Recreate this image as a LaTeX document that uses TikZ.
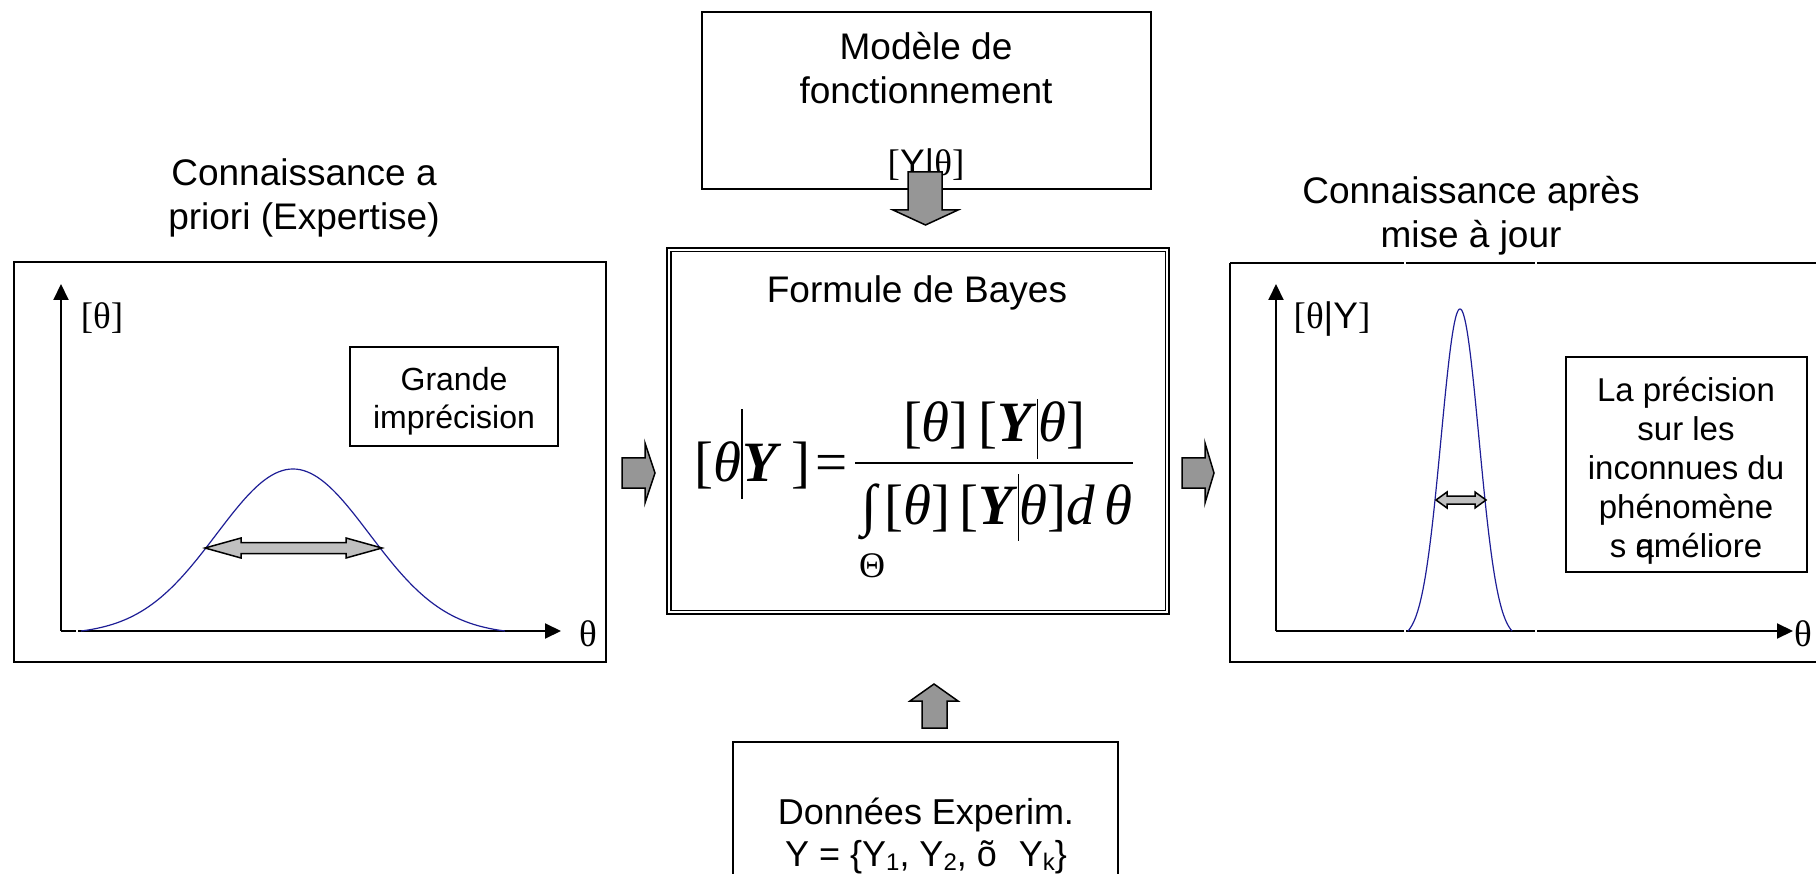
\documentclass[tikz,border=0pt]{standalone}
\usepackage{fontspec}
\setmainfont{Liberation Sans}
\newfontfamily\tnr{Liberation Serif}
\usetikzlibrary{calc,arrows.meta}

\definecolor{curveblue}{RGB}{30,30,150}
\definecolor{blockgray}{RGB}{150,150,150}
\definecolor{palegray}{RGB}{192,192,192}

% tall conditioning bar: depth, total height
\newcommand{\condbar}[2]{\rule[-#1]{1.4pt}{#2}}
% lowered subscript in the label font
\newcommand{\lowsub}[1]{\raisebox{-4pt}{\fontsize{24}{24}\selectfont #1}}

\begin{document}
\begin{tikzpicture}[x=1pt,y=-1pt,
  frame/.style={draw, line width=1.5pt, inner sep=0pt},
  lbl/.style={font=\fontsize{37}{44}\selectfont, align=center, inner sep=0pt},
  smalllbl/.style={font=\fontsize{33}{39}\selectfont, align=center, inner sep=0pt},
  axis/.style={line width=2pt, -{Triangle[length=16pt,width=15pt]}},
  curve/.style={curveblue, line width=1.2pt},
  block/.style={fill=blockgray, draw=black, line width=1.5pt, line join=miter},
  dblock/.style={fill=palegray, draw=black, line width=1.5pt, line join=miter},
  gap/.style={draw=white, line width=2.5pt},
  frm/.style={font=\tnr\fontsize{57}{60}\selectfont, inner sep=0pt}
]
\path[use as bounding box] (0,0) rectangle (1816,874);
\clip (0,0) rectangle (1816,874);

% ---------- operating model (top) ----------
\node[frame, minimum width=449pt, minimum height=177pt] (model) at (926.5,100.5) {};
\node[lbl] (modtxt) at (926,68) {Modèle de\\fonctionnement};
\node[lbl] (lik) at (926,166) {{\tnr[}Y|{\tnr θ]}};
\draw[block] (908,172) -- (942,172) -- (942,210) -- (958,210) -- (925.5,225)
  -- (893,210) -- (908,210) -- cycle;

% ---------- prior knowledge (left) ----------
\node[lbl] (priortitle) at (304,198) {Connaissance a\\priori (Expertise)};
\node[frame, minimum width=592pt, minimum height=400pt] (prior) at (310,462) {};
\coordinate (pO) at (61,631);
\draw[axis] (pO) -- (61,284);
\draw[axis] (pO) -- (561,631);
\draw[gap] (77,627) -- (77,635);
\node[lbl, font=\tnr\fontsize{37}{44}\selectfont] (pylab) at (102,318) {[θ]};
\node[lbl, font=\tnr\fontsize{37}{44}\selectfont] (pxlab) at (588,634) {θ};
\node[frame, minimum width=208pt, minimum height=99pt] (wide) at (454,396.5) {};
\node[smalllbl, font=\fontsize{32}{38}\selectfont] (widetxt) at (454,401) {Grande\\imprécision};
\draw[curve] plot[domain=-2.77:2.77, samples=121, smooth]
  ({293+76.5*\x}, {631-162*(exp(-\x*\x/2)-0.0215)/0.9785});
\draw[dblock] (205,548) -- (241,538) -- (241,542.5) -- (346,542.5) -- (346,538)
  -- (382,548) -- (346,558) -- (346,553.5) -- (241,553.5) -- (241,558) -- cycle;

% ---------- Bayes formula (centre) ----------
\node[draw, line width=2.6pt, minimum width=502pt, minimum height=366pt, inner sep=0pt] (bayes) at (918,431) {};
\draw[line width=1.6pt] ($(bayes.north west)+(5,5)$) rectangle ($(bayes.south east)+(-5,-5)$);
\node[lbl] (bayestitle) at (917,293) {Formule de Bayes};
\node[frm, anchor=base west] (lhs) at (694,482)
  {[\textit{θ}\condbar{17pt}{90pt}\textbf{\textit{Y}}\,]\hspace{5pt}=};
\draw[line width=2pt] (855,463) coordinate (fracl) -- (1133,463) coordinate (fracr);
\node[frm, anchor=base] (num) at (994,442)
  {[\textit{θ}]\,[\textbf{\textit{Y}}\condbar{17pt}{60pt}\textit{θ}]};
\node[frm, anchor=base] (intsign) at (869,524) {∫};
\node[frm, anchor=base west] (den) at (884,524)
  {[\textit{θ}]\,[\textbf{\textit{Y}}\condbar{17pt}{67pt}\textit{θ}]\textit{d}\,\textit{θ}};
\node[frm, font=\tnr\fontsize{36}{38}\selectfont] (domain) at (872,566) {Θ};

% ---------- flow arrows around the formula ----------
\draw[block] (622,458) -- (645,458) -- (645,443) -- (655,473) -- (645,503)
  -- (645,488) -- (622,488) -- cycle;
\draw[block] (1182,458) -- (1205,458) -- (1205,443) -- (1214,473) -- (1205,503)
  -- (1205,488) -- (1182,488) -- cycle;
\draw[block] (934,684) -- (958,701) -- (947,701) -- (947,728) -- (922,728)
  -- (922,701) -- (910,701) -- cycle;

% ---------- updated knowledge (right) ----------
\node[lbl] (posttitle) at (1471,216) {Connaissance après\\mise à jour};
\draw[line width=1.5pt] (1230,263) coordinate (qnw) -- (1830,263);
\draw[line width=1.5pt] (qnw) -- (1230,662) -- (1830,662);
\coordinate (qO) at (1276,631);
\draw[axis] (qO) -- (1793,631);
\draw[axis] (qO) -- (1276,284);
\draw[gap] (1405,259) -- (1405,267) (1536,259) -- (1536,267)
  (1405,627) -- (1405,635) (1536,627) -- (1536,635);
\node[lbl, font=\fontsize{37}{44}\selectfont] (qylab) at (1332,319) {{\tnr[θ}|Y{\tnr]}};
\node[lbl, font=\tnr\fontsize{37}{44}\selectfont] (qxlab) at (1803,634) {θ};
\draw[curve] plot[domain=-2.74:2.74, samples=121, smooth]
  ({1460+19*\x}, {631-322*(exp(-\x*\x/2)-0.0235)/0.9765});
\draw[dblock] (1436,500) -- (1447,492) -- (1447,496) -- (1475,496) -- (1475,492)
  -- (1486,500) -- (1475,508) -- (1475,504) -- (1447,504) -- (1447,508) -- cycle;
\node[frame, minimum width=241pt, minimum height=215pt] (sharp) at (1686.5,464.5) {};
\node[smalllbl] (sharptxt) at (1686,471)
  {La précision\\sur les\\inconnues du\\phénomène\\s \rlap{q}améliore};

% ---------- experimental data (bottom) ----------
\draw[line width=1.5pt] (733,890) -- (733,742) coordinate (dnw) -- (1118,742) -- (1118,890);
\node[lbl, font=\fontsize{36}{44}\selectfont] (datatxt) at (926,815) {Données Experim.};
\node[lbl, font=\fontsize{36}{44}\selectfont, anchor=base] (dataset) at (926,866)
  {Y = \{Y\lowsub{1}, Y\lowsub{2}, õ\hspace{22pt}Y\lowsub{k}\}};
\end{tikzpicture}
\end{document}
